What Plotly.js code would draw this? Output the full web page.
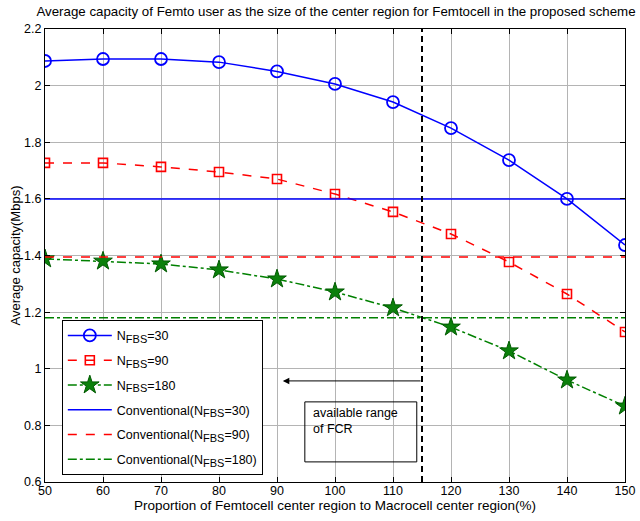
<!DOCTYPE html>
<html>
<head>
<meta charset="utf-8">
<script src="https://cdn.plot.ly/plotly-3.0.1.min.js"></script>
<style>html,body{margin:0;padding:0;background:#fff}#chart{width:640px;height:521px}</style>
</head>
<body>
<div id="chart"></div>
<script>
const proportion = [50, 60, 70, 80, 90, 100, 110, 120, 130, 140, 150];
const nfbs30 = [2.087, 2.094, 2.094, 2.083, 2.05, 2.006, 1.942, 1.85, 1.737, 1.60, 1.437];
const nfbs90 = [1.727, 1.727, 1.713, 1.695, 1.67, 1.617, 1.554, 1.476, 1.377, 1.264, 1.13];
const nfbs180 = [1.388, 1.38, 1.37, 1.349, 1.317, 1.271, 1.215, 1.147, 1.063, 0.96, 0.868];
const conv30 = 1.60;
const conv90 = 1.395;
const conv180 = 1.18;
const fcrLimit = 115;
const arrowEnd = 91;
const arrowLevel = 0.957;
const yTicks = [0.6, 0.8, 1, 1.2, 1.4, 1.6, 1.8, 2, 2.2];
const xTicks = [50, 60, 70, 80, 90, 100, 110, 120, 130, 140, 150];

const F = 'Liberation Sans, Arial, sans-serif';
const SUB = '<sub><span style="font-size:11px">FBS</span></sub>';
const traces = [
  {x: proportion, y: nfbs30, name: 'N' + SUB + '=30', mode: 'lines+markers', legendgroup: 'a',
   line: {color: '#0000ff', width: 1.5}, marker: {symbol: 'circle-open', size: 12, color: '#0000ff', line: {width: 1.8}}},
  {x: proportion, y: nfbs90, name: 'N' + SUB + '=90', mode: 'lines+markers', legendgroup: 'b',
   line: {color: '#ff0000', width: 1.5, dash: 'dash'}, marker: {symbol: 'square-open', size: 9, color: '#ff0000', line: {width: 1.6}}},
  {x: proportion, y: nfbs180, name: 'N' + SUB + '=180', mode: 'lines+markers', legendgroup: 'c',
   line: {color: '#008000', width: 1.5, dash: 'dashdot'}, marker: {symbol: 'star', size: 14, color: '#0b800b', line: {width: 1, color: '#005a00'}}},
  {x: proportion, y: proportion.map(() => conv30), name: 'Conventional(N' + SUB + '=30)', mode: 'lines', legendgroup: 'd',
   line: {color: '#0000ff', width: 1.5}},
  {x: proportion, y: proportion.map(() => conv90), name: 'Conventional(N' + SUB + '=90)', mode: 'lines', legendgroup: 'e',
   line: {color: '#ff0000', width: 1.5, dash: 'dash'}},
  {x: proportion, y: proportion.map(() => conv180), name: 'Conventional(N' + SUB + '=180)', mode: 'lines', legendgroup: 'f',
   line: {color: '#008000', width: 1.5, dash: 'dashdot'}}
];

const layout = {
  width: 640, height: 521,
  margin: {l: 45, r: 15, t: 29, b: 39},
  paper_bgcolor: '#fff', plot_bgcolor: '#fff',
  font: {family: F, size: 12.5, color: '#000'},
  title: {text: 'Average capacity of Femto user as the size of the center region for Femtocell in the proposed scheme',
          font: {family: F, size: 13.3, color: '#000'}, x: 0.525, xanchor: 'center', y: 0.988, yanchor: 'top'},
  showlegend: true,
  legend: {x: 0.029, y: 0.358, xanchor: 'left', yanchor: 'top', bgcolor: '#fff', bordercolor: '#000', borderwidth: 1,
           font: {family: F, size: 12.5, color: '#000'}, tracegroupgap: 5.5, itemwidth: 44},
  xaxis: {range: [50, 150], tickvals: xTicks, ticktext: xTicks.map(String), showgrid: true, gridcolor: '#b4b4b4', gridwidth: 1,
          zeroline: false, showline: true, linecolor: '#000', linewidth: 1, mirror: 'ticks', ticks: 'inside', ticklen: 5, tickcolor: '#000',
          ticklabelstandoff: -3,
          title: {text: 'Proportion of Femtocell center region to Macrocell center region(%)', font: {family: F, size: 13.5}, standoff: 0},
          tickfont: {family: F, size: 12.5}},
  yaxis: {range: [0.6, 2.2], tickvals: yTicks, ticktext: yTicks.map(String), showgrid: true, gridcolor: '#b4b4b4', gridwidth: 1,
          zeroline: false, showline: true, linecolor: '#000', linewidth: 1, mirror: 'ticks', ticks: 'inside', ticklen: 5, tickcolor: '#000',
          title: {text: 'Average capacity(Mbps)', font: {family: F, size: 13}, standoff: 0},
          tickfont: {family: F, size: 12.5}},
  shapes: [
    {type: 'line', xref: 'x', yref: 'paper', x0: fcrLimit, x1: fcrLimit, y0: 0, y1: 1, line: {color: '#000', width: 2, dash: '6px,4px'}},
    {type: 'rect', xref: 'x', yref: 'y', x0: 94.8, x1: 114.1, y0: 0.671, y1: 0.883, line: {color: '#000', width: 1}, fillcolor: 'rgba(0,0,0,0)'}
  ],
  annotations: [
    {xref: 'x', yref: 'y', x: arrowEnd, y: arrowLevel, ax: fcrLimit, ay: arrowLevel, axref: 'x', ayref: 'y', text: '',
     showarrow: true, arrowhead: 2, arrowsize: 1.3, arrowwidth: 1, arrowcolor: '#000'},
    {xref: 'x', yref: 'y', x: 95.8, y: 0.875, xanchor: 'left', yanchor: 'top', align: 'left', showarrow: false,
     text: 'available range<br>of FCR', font: {family: F, size: 12.5, color: '#000'}}
  ]
};

Plotly.newPlot('chart', traces, layout, {displayModeBar: false, staticPlot: true});
</script>
</body>
</html>
